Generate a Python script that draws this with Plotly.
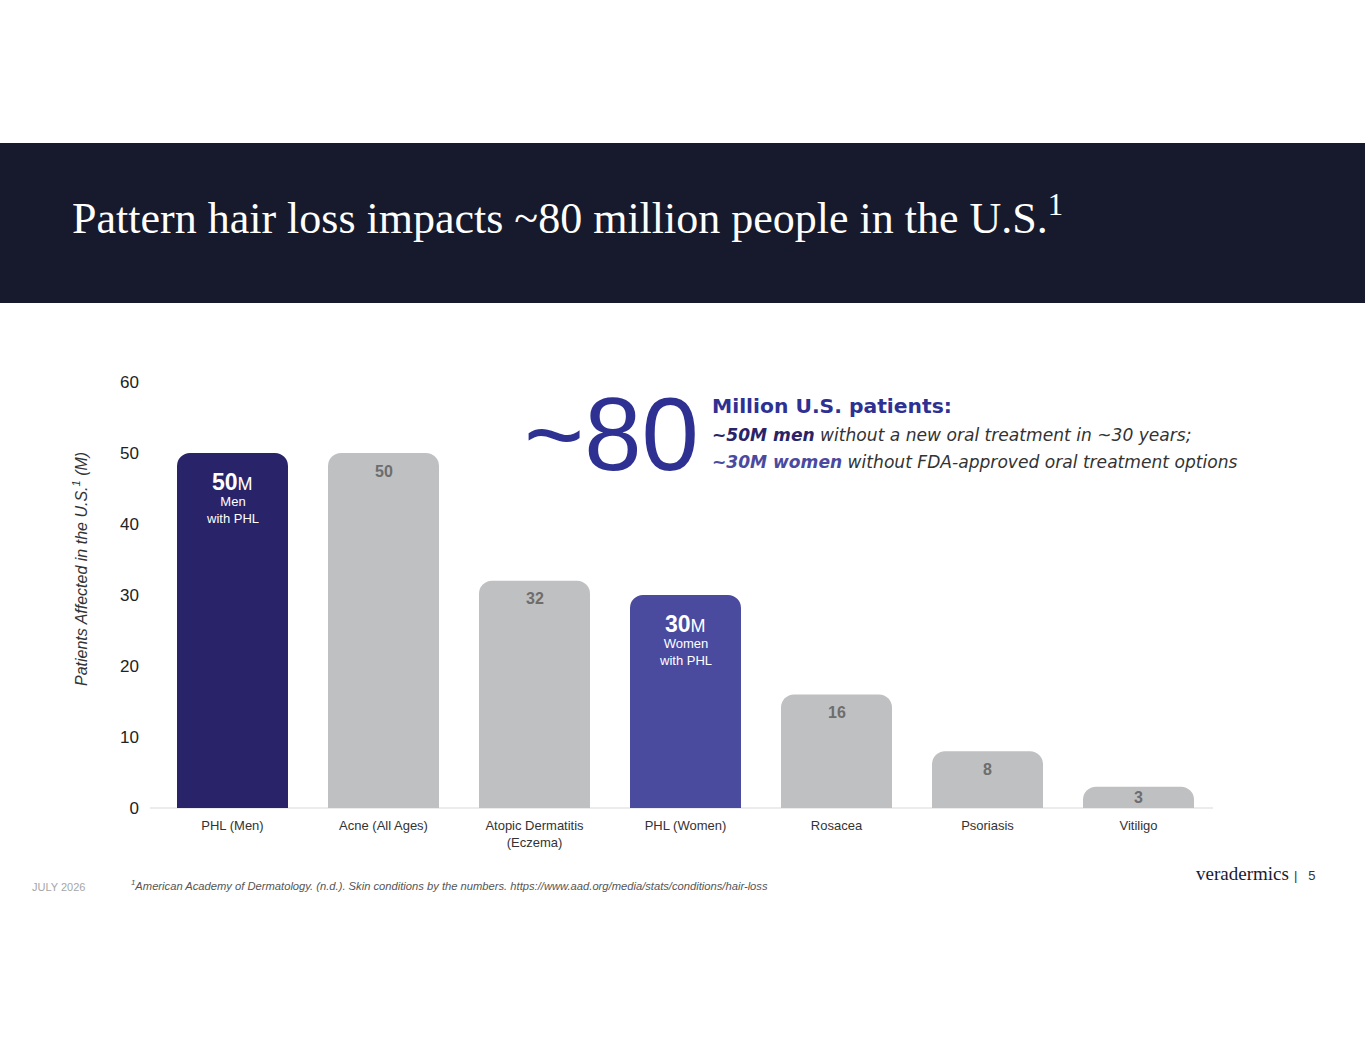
import plotly.graph_objects as go

# chart data
categories = ["PHL (Men)", "Acne (All Ages)", "Atopic Dermatitis<br>(Eczema)",
              "PHL (Women)", "Rosacea", "Psoriasis", "Vitiligo"]
patients_m = [50, 50, 32, 30, 16, 8, 3]
highlight_sub = {0: "Men<br>with PHL", 3: "Women<br>with PHL"}
highlight_col = {0: "#29246a", 3: "#4a4a9f"}
grey = "#bfc0c2"

W, H = 1365, 1055
L, R, T, B = 157, 1214, 382, 808   # plot area in page pixels
Y_MAX = 60
PX_PER_UNIT = (B - T) / Y_MAX


def px_x(p):
    return (p - L) / (R - L)


def px_y(p):
    return (B - p) / (B - T)


SANS = "Liberation Sans, Arial, sans-serif"
WIDE = "DejaVu Sans, Verdana, sans-serif"
SERIF = "Liberation Serif, Times New Roman, serif"

bar_colors = [highlight_col.get(i, grey) for i in range(len(categories))]

fig = go.Figure()
fig.add_trace(go.Bar(
    x=categories, y=patients_m,
    marker=dict(color=bar_colors, line=dict(width=0)),
    hoverinfo="skip",
))

ann = []
# labels inside the bars
for i, (c, v) in enumerate(zip(categories, patients_m)):
    if i in highlight_sub:
        ann.append(dict(x=c, y=v, xref="x", yref="y", yanchor="middle", yshift=-29,
                        text=f"<b>{v}</b><span style='font-size:18px'>M</span>",
                        showarrow=False, font=dict(family=SANS, size=23, color="white")))
        ann.append(dict(x=c, y=v, xref="x", yref="y", yanchor="middle", yshift=-57,
                        text=highlight_sub[i], showarrow=False,
                        font=dict(family=SANS, size=13, color="white")))
    else:
        shift = min(18, v * PX_PER_UNIT / 2)
        ann.append(dict(x=c, y=v, xref="x", yref="y", yanchor="middle", yshift=-shift,
                        text=f"<b>{v}</b>", showarrow=False,
                        font=dict(family=SANS, size=16, color="#6d6d6d")))

# y axis title
ann.append(dict(x=px_x(68), y=px_y(569), xref="paper", yref="paper", textangle=-90,
                text="<i>Patients Affected in the U.S.<sup>1</sup> (M)</i>", showarrow=False,
                font=dict(family=SANS, size=16, color="#333333")))

# slide title
ann.append(dict(x=px_x(70), y=px_y(215), xref="paper", yref="paper", xanchor="left",
                yanchor="middle", showarrow=False,
                text="Pattern hair loss impacts ~80 million people in the U.S.<sup>1</sup>",
                font=dict(family=SERIF, size=44, color="white")))

# callout
ann.append(dict(x=px_x(522), y=px_y(434), xref="paper", yref="paper", xanchor="left",
                yanchor="middle", showarrow=False, text="~80",
                font=dict(family=SANS, size=103, color="#2e3192")))
ann.append(dict(x=px_x(710), y=px_y(406), xref="paper", yref="paper", xanchor="left",
                yanchor="middle", showarrow=False, text="<b>Million U.S. patients:</b>",
                font=dict(family=WIDE, size=20.3, color="#2e3192")))
ann.append(dict(x=px_x(710), y=px_y(435), xref="paper", yref="paper", xanchor="left",
                yanchor="middle", showarrow=False,
                text="<i><b><span style='color:#29246a'>~50M men</span></b> without a new oral treatment in ~30 years;</i>",
                font=dict(family=WIDE, size=17.1, color="#333333")))
ann.append(dict(x=px_x(710), y=px_y(462), xref="paper", yref="paper", xanchor="left",
                yanchor="middle", showarrow=False,
                text="<i><b><span style='color:#4a4a9f'>~30M women</span></b> without FDA-approved oral treatment options</i>",
                font=dict(family=WIDE, size=17.1, color="#333333")))

# footer
ann.append(dict(x=px_x(30), y=px_y(887), xref="paper", yref="paper", xanchor="left",
                yanchor="middle", showarrow=False, text="JULY 2026",
                font=dict(family=SANS, size=11, color="#a6a6a6")))
ann.append(dict(x=px_x(129), y=px_y(885), xref="paper", yref="paper", xanchor="left",
                yanchor="middle", showarrow=False,
                text="<i><sup>1</sup>American Academy of Dermatology. (n.d.). Skin conditions by the numbers. https://www.aad.org/media/stats/conditions/hair-loss</i>",
                font=dict(family=SANS, size=11.2, color="#555555")))
ann.append(dict(x=px_x(1194), y=px_y(873), xref="paper", yref="paper", xanchor="left",
                yanchor="middle", showarrow=False, text="veradermics",
                font=dict(family=SERIF, size=19, color="#1b1b2f")))
ann.append(dict(x=px_x(1292), y=px_y(875), xref="paper", yref="paper", xanchor="left",
                yanchor="middle", showarrow=False, text="|&nbsp;&nbsp;&nbsp;5",
                font=dict(family=SANS, size=13, color="#333333")))

fig.update_layout(
    width=W, height=H,
    margin=dict(l=L, r=W - R, t=T, b=H - B),
    paper_bgcolor="white", plot_bgcolor="white",
    showlegend=False,
    bargap=0.265,
    barcornerradius=13,
    annotations=ann,
    shapes=[
        dict(type="rect", xref="paper", yref="paper", layer="below",
             x0=px_x(-5), x1=px_x(W + 5), y0=px_y(303), y1=px_y(143),
             fillcolor="#161a2c", line=dict(width=0)),
        dict(type="line", xref="paper", yref="paper", layer="below",
             x0=px_x(150), x1=px_x(1213), y0=0, y1=0,
             line=dict(color="#d9d9d9", width=1)),
    ],
    xaxis=dict(showline=False, showgrid=False, zeroline=False,
               ticks="", ticklabelstandoff=8,
               tickfont=dict(family=SANS, size=13, color="#333333"),
               range=[-0.5, 6.5], fixedrange=True),
    yaxis=dict(range=[0, Y_MAX], dtick=10, showgrid=False, zeroline=False, showline=False,
               ticks="", ticklabelstandoff=17,
               tickfont=dict(family=SANS, size=17, color="#222222"), fixedrange=True),
)

fig.write_html("out.html", config={"displayModeBar": False},
               post_script="document.body.style.margin='0';")
